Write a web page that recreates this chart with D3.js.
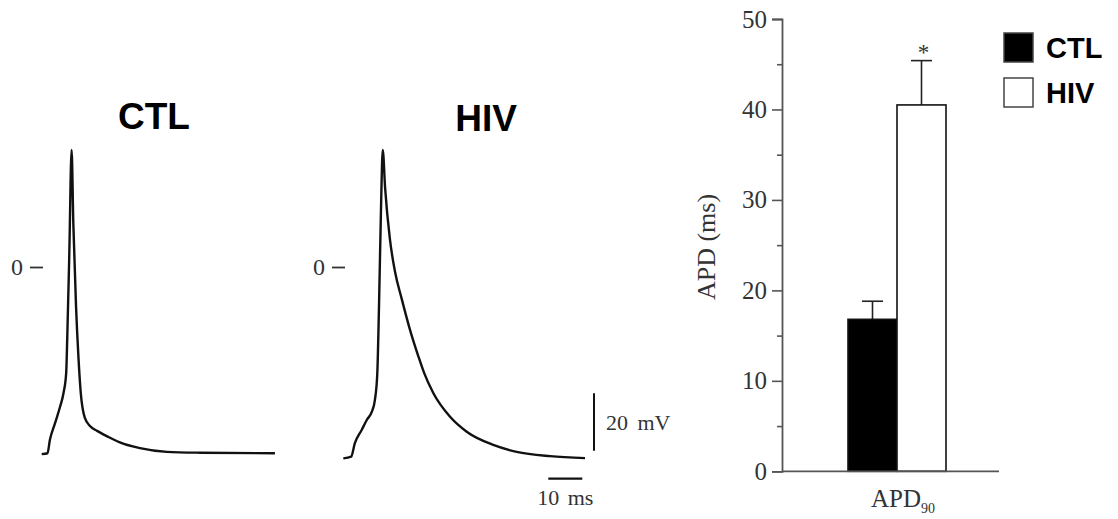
<!DOCTYPE html>
<html>
<head>
<meta charset="utf-8">
<script src="https://cdn.jsdelivr.net/npm/d3@7"></script>
<style>
  body { margin: 0; background: #fff; }
  svg { display: block; }
  .serif { font-family: "Liberation Serif", "Times New Roman", serif; fill: #333; }
  .bold { font-family: "Liberation Sans", Arial, sans-serif; font-weight: bold; fill: #000; }
</style>
</head>
<body>
<div id="chart"></div>
<script>
// Action potential traces (time in ms, voltage in mV)
var ctlTime = [0, 1.7, 2.4, 3.9, 5.4, 6.4, 7.2, 7.5, 8.1, 8.8, 9.3, 10.1, 10.8, 11.5, 12.7, 14.2, 16.3, 19.6, 23.0, 28.9, 36.8, 46.6, 68.6];
var ctlVolt = [-65.2, -64.9, -60.3, -54.5, -48.7, -44.0, -37.0, -25.4, 3.6, 40.8, 15.2, -13.8, -31.3, -44.0, -52.6, -55.4, -57.1, -59.2, -61.1, -63.1, -64.4, -64.7, -64.9];

var hivTime = [0, 2.3, 3.4, 5.4, 6.9, 8.4, 9.3, 10.0, 10.5, 11.1, 11.6, 12.3, 13.7, 15.2, 17.2, 19.6, 22.1, 23.8, 26.5, 31.4, 36.3, 44.1, 51.0, 60.8, 71.1];
var hivVolt = [-66.7, -66.1, -61.4, -56.8, -53.3, -50.4, -46.3, -37.0, -13.8, 21.0, 40.8, 27.5, 9.8, -1.6, -11.2, -21.8, -31.2, -37.0, -44.0, -52.2, -57.4, -62.0, -64.4, -65.9, -66.6];

// Bar chart
var groups = ["APD90"];
var series = ["CTL", "HIV"];
var apdMean = [16.8, 40.5];
var apdErr = [2.0, 4.9];
var yTicks = [0, 10, 20, 30, 40, 50];
var yMinorTicks = [5, 15, 25, 35, 45];
var scaleBarMs = 10;
var scaleBarMv = 20;

var W = 1118, H = 519;
var svg = d3.select('#chart').append('svg')
    .attr('width', W)
    .attr('height', H);

// shared trace scales (3.4 px per ms, 2.87 px per mV)
var vScale = d3.scaleLinear().domain([0, 20]).range([267, 267 - 57.4]);
function tScale(x0) {
    return d3.scaleLinear().domain([0, 10]).range([x0, x0 + 34]);
}

var traces = [
    { name: 'CTL', t: ctlTime, v: ctlVolt, x0: 41.7, axisX: 43, titleX: 154, titleY: 129 },
    { name: 'HIV', t: hivTime, v: hivVolt, x0: 343.3, axisX: 345, titleX: 486, titleY: 131 }
];

traces.forEach(function (tr) {
    var x = tScale(tr.x0);
    var pts = tr.t.map(function (d, i) { return [d, tr.v[i]]; });

    svg.append('path')
        .datum(pts)
        .attr('fill', 'none')
        .attr('stroke', '#111')
        .attr('stroke-width', 2.4)
        .attr('stroke-linejoin', 'round')
        .attr('d', d3.line()
            .x(function (d) { return x(d[0]); })
            .y(function (d) { return vScale(d[1]); })
            .curve(d3.curveMonotoneX));

    // zero mark
    var zeroAx = svg.append('g')
        .attr('transform', 'translate(' + tr.axisX + ',0)')
        .call(d3.axisLeft(vScale).tickValues([0]).tickSize(13).tickPadding(7));
    zeroAx.select('.domain').remove();
    zeroAx.selectAll('line').attr('stroke', '#333').attr('stroke-width', 1.8);
    zeroAx.selectAll('text')
        .attr('class', 'serif')
        .style('font-size', '24px')
        .attr('fill', '#333');

    svg.append('text')
        .attr('class', 'bold')
        .attr('x', tr.titleX)
        .attr('y', tr.titleY)
        .attr('text-anchor', 'middle')
        .style('font-size', '37px')
        .text(tr.name);
});

// scale bars
var sbX = 594, sbY = 450.7;
svg.append('line')
    .attr('x1', sbX).attr('x2', sbX)
    .attr('y1', sbY).attr('y2', sbY - (vScale(0) - vScale(scaleBarMv)))
    .attr('stroke', '#111').attr('stroke-width', 2);
svg.append('text')
    .attr('class', 'serif')
    .attr('x', 606).attr('y', 430)
    .style('font-size', '22px')
    .style('word-spacing', '4px')
    .text(scaleBarMv + ' mV');

var tb = tScale(548.3);
svg.append('line')
    .attr('x1', tb(0)).attr('x2', tb(scaleBarMs))
    .attr('y1', 478.7).attr('y2', 478.7)
    .attr('stroke', '#111').attr('stroke-width', 2.2);
svg.append('text')
    .attr('class', 'serif')
    .attr('x', (tb(0) + tb(scaleBarMs)) / 2).attr('y', 505)
    .attr('text-anchor', 'middle')
    .style('font-size', '22px')
    .style('word-spacing', '3px')
    .text(scaleBarMs + ' ms');

// ---- bar chart ----
var bx0 = 782, bx1 = 999, by0 = 471.3, by1 = 19;
var y = d3.scaleLinear().domain([0, 50]).range([by0, by1]);
var xg = d3.scaleBand().domain(groups).range([bx0 + 66, bx0 + 164]).padding(0);
var xs = d3.scaleBand().domain(series).range([0, xg.bandwidth()]);

var bar = svg.append('g');
series.forEach(function (s, i) {
    var left = xg('APD90') + xs(s);
    var cx = left + xs.bandwidth() / 2;
    // error bar (upper only)
    bar.append('line')
        .attr('x1', cx).attr('x2', cx)
        .attr('y1', y(apdMean[i])).attr('y2', y(apdMean[i] + apdErr[i]))
        .attr('stroke', '#222').attr('stroke-width', 1.6);
    bar.append('line')
        .attr('x1', cx - 10.5).attr('x2', cx + 10.5)
        .attr('y1', y(apdMean[i] + apdErr[i])).attr('y2', y(apdMean[i] + apdErr[i]))
        .attr('stroke', '#222').attr('stroke-width', 1.6);
    bar.append('rect')
        .attr('x', left)
        .attr('y', y(apdMean[i]))
        .attr('width', xs.bandwidth())
        .attr('height', by0 - y(apdMean[i]))
        .attr('fill', i === 0 ? '#000' : '#fff')
        .attr('stroke', '#111')
        .attr('stroke-width', 1.6);
    if (s === 'HIV') {
        bar.append('text')
            .attr('class', 'serif')
            .attr('x', cx + 2)
            .attr('y', y(apdMean[i] + apdErr[i]) - 1)
            .attr('text-anchor', 'middle')
            .style('font-size', '23px')
            .text('*');
    }
});

// y axis with minor ticks
var yAx = svg.append('g')
    .attr('transform', 'translate(' + bx0 + ',0)')
    .call(d3.axisLeft(y).tickValues(yTicks).tickSize(10).tickPadding(5));
yAx.select('.domain').attr('stroke', '#555').attr('stroke-width', 1.8);
yAx.selectAll('line').attr('stroke', '#555').attr('stroke-width', 1.6);
yAx.selectAll('text').attr('class', 'serif').style('font-size', '25px').attr('fill', '#444');

var yMinor = svg.append('g')
    .attr('transform', 'translate(' + bx0 + ',0)')
    .call(d3.axisLeft(y).tickValues(yMinorTicks).tickSize(5).tickFormat(''));
yMinor.select('.domain').remove();
yMinor.selectAll('line').attr('stroke', '#555').attr('stroke-width', 1.6);

// x axis line
svg.append('line')
    .attr('x1', bx0).attr('x2', bx1)
    .attr('y1', by0).attr('y2', by0)
    .attr('stroke', '#555').attr('stroke-width', 1.8);

var xl = svg.append('text')
    .attr('class', 'serif')
    .attr('x', xg('APD90') + xg.bandwidth() / 2 - 26)
    .attr('y', 507)
    .style('font-size', '25px');
xl.append('tspan').text('APD');
xl.append('tspan').attr('dy', 6).style('font-size', '14px').text('90');

svg.append('text')
    .attr('class', 'serif')
    .attr('transform', 'translate(715,247) rotate(-90)')
    .attr('text-anchor', 'middle')
    .style('font-size', '26px')
    .text('APD (ms)');

// legend
var legend = svg.append('g').attr('transform', 'translate(1004,33)');
series.forEach(function (s, i) {
    legend.append('rect')
        .attr('x', 0).attr('y', i * 45)
        .attr('width', 29).attr('height', 29)
        .attr('fill', i === 0 ? '#000' : '#fff')
        .attr('stroke', '#444').attr('stroke-width', 1.5);
    legend.append('text')
        .attr('class', 'bold')
        .attr('x', 42).attr('y', i * 45 + 25)
        .style('font-size', '29px')
        .text(s);
});
</script>
</body>
</html>
